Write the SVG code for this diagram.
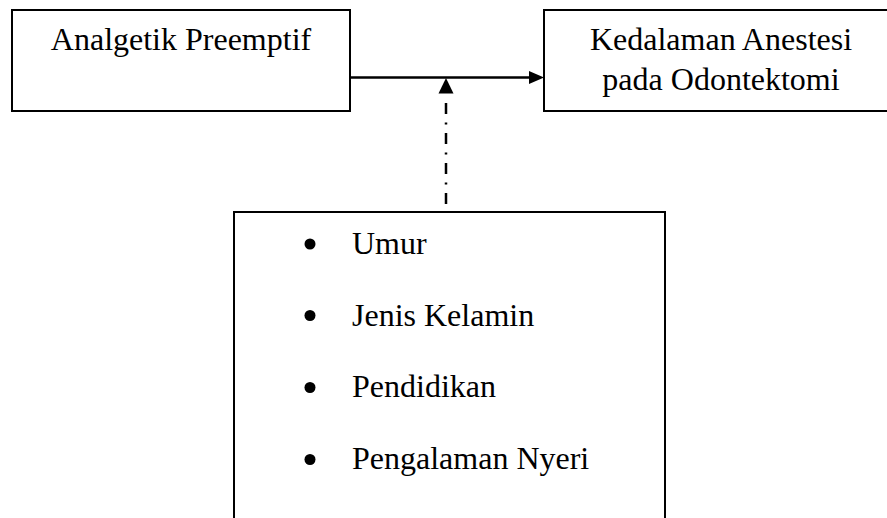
<svg xmlns="http://www.w3.org/2000/svg" width="887" height="518" viewBox="0 0 887 518">
<style>
.box{fill:#fff;stroke:#000;stroke-width:2}
.t{font-family:"Liberation Serif","Times New Roman",serif;font-size:32px;fill:#000}
.c{text-anchor:middle}
.conn{stroke:#000;stroke-width:2.5;fill:none}
</style>
<rect width="887" height="518" fill="#fff"/>
<g id="node-analgetik">
<rect class="box" x="12" y="10" width="338" height="101"/>
<text class="t c" x="181" y="50">Analgetik Preemptif</text>
</g>
<g id="node-kedalaman">
<rect class="box" x="544" y="10" width="360" height="101"/>
<text class="t c" x="721" y="50">Kedalaman Anestesi</text>
<text class="t c" x="721" y="90">pada Odontektomi</text>
</g>
<g id="node-faktor">
<rect class="box" x="234" y="212" width="431" height="330"/>
<circle cx="310" cy="244" r="5.5"/>
<text class="t" x="352" y="254">Umur</text>
<circle cx="310" cy="315.5" r="5.5"/>
<text class="t" x="352" y="326">Jenis Kelamin</text>
<circle cx="310" cy="387.5" r="5.5"/>
<text class="t" x="352" y="397">Pendidikan</text>
<circle cx="310" cy="459.5" r="5.5"/>
<text class="t" x="352" y="469">Pengalaman Nyeri</text>
</g>
<g id="connectors">
<line class="conn" x1="350" y1="77.5" x2="530" y2="77.5"/>
<polygon points="529,71 544,77.5 529,84" fill="#000"/>
<path class="conn" d="M446,204 L446,95" stroke-dasharray="11 8.5 2 8.5"/>
<polygon points="446,78 438.5,93.5 453.5,93.5" fill="#000"/>
</g>
</svg>
